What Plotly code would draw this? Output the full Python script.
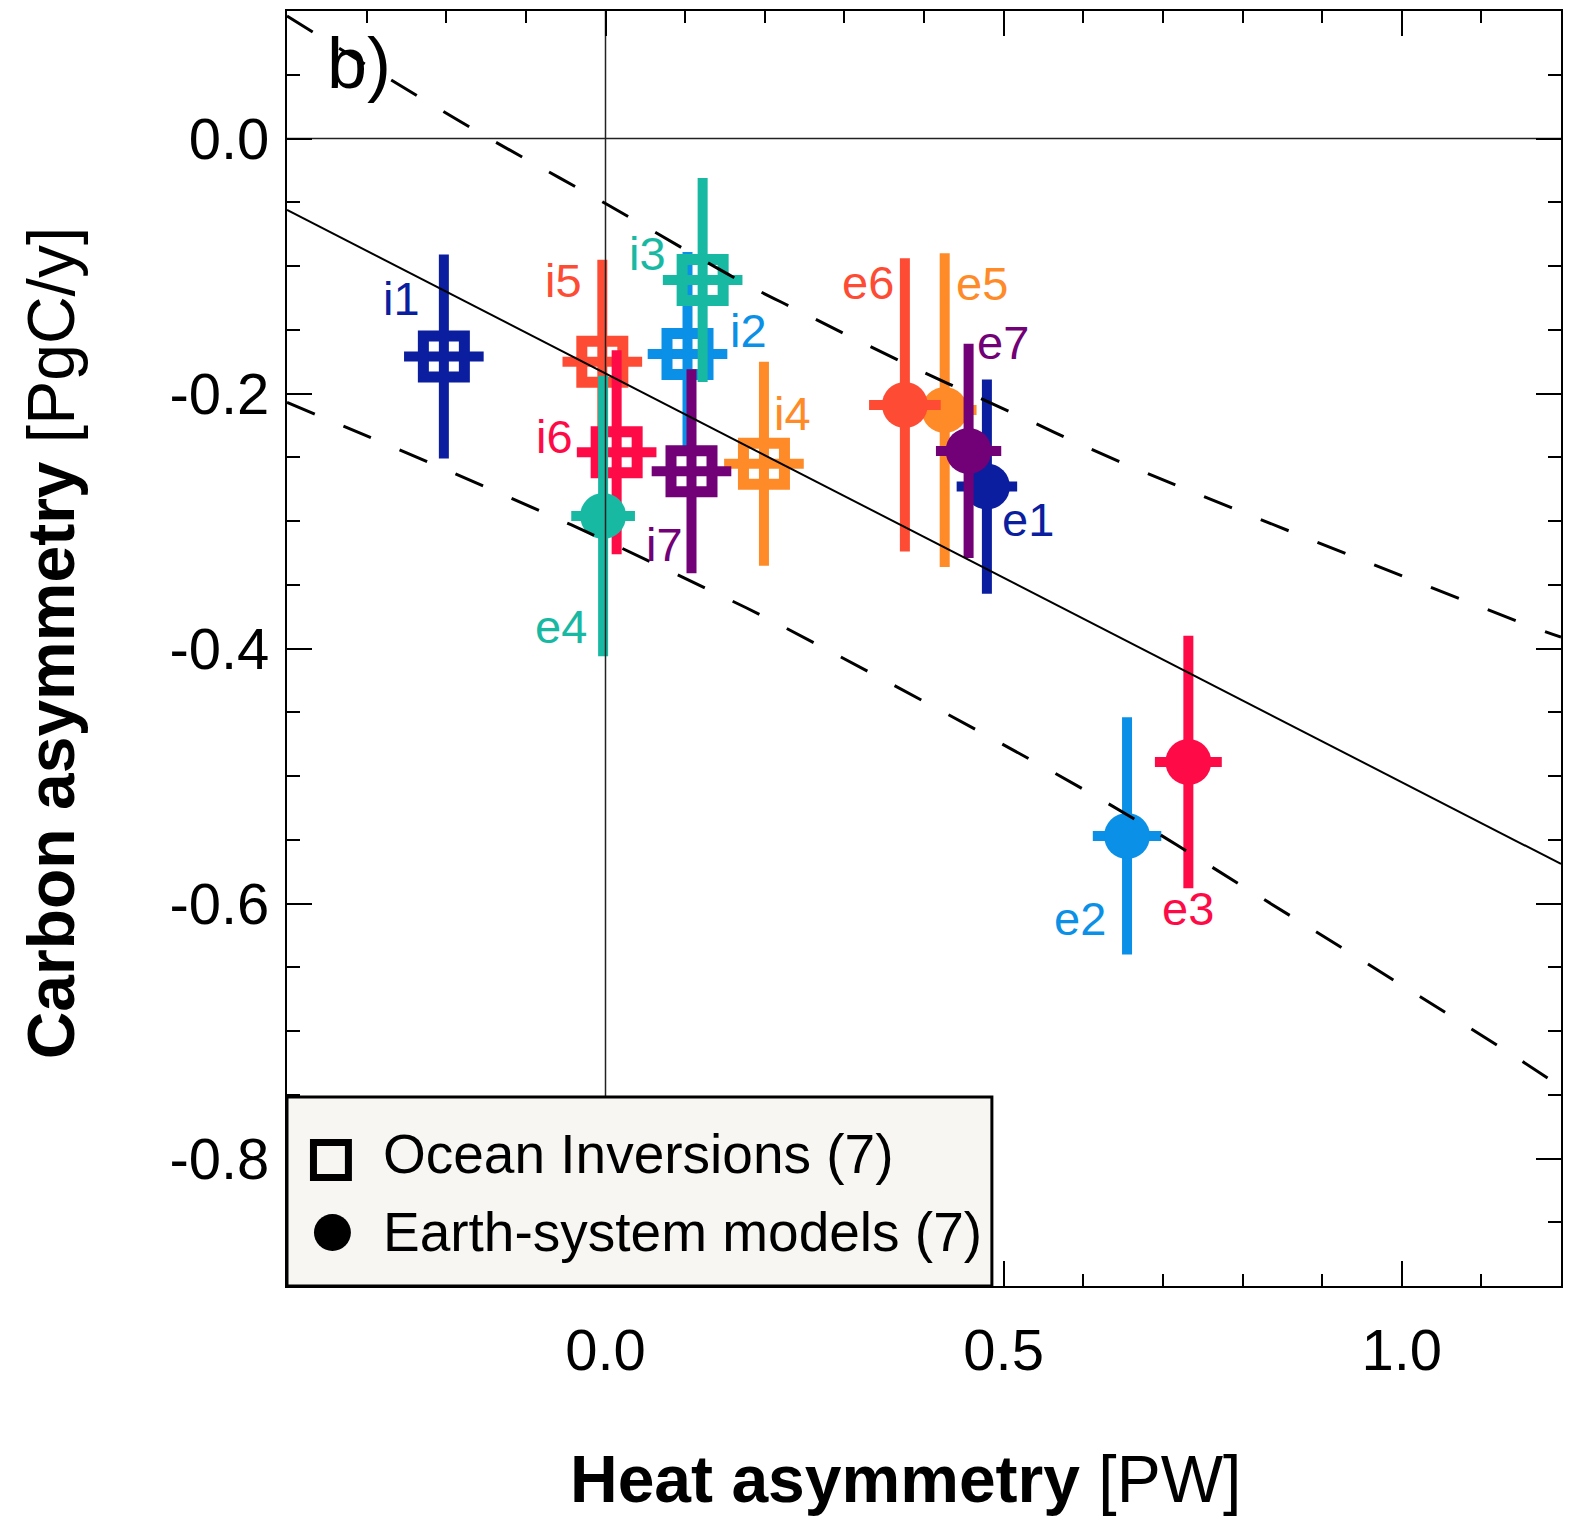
import plotly.graph_objects as go

# ---------------- data ----------------
inv_labels = ["i1", "i2", "i3", "i4", "i5", "i6", "i7"]
inv_x = [-0.203, 0.103, 0.122, 0.199, -0.004, 0.014, 0.108]
inv_y = [-0.171, -0.169, -0.111, -0.255, -0.175, -0.246, -0.261]
inv_yerr = [0.080, 0.080, 0.080, 0.080, 0.080, 0.080, 0.080]
inv_xerr = [0.050, 0.050, 0.050, 0.050, 0.050, 0.050, 0.050]

esm_labels = ["e1", "e2", "e3", "e4", "e5", "e6", "e7"]
esm_x = [0.479, 0.655, 0.732, -0.003, 0.426, 0.376, 0.456]
esm_y = [-0.273, -0.547, -0.489, -0.296, -0.213, -0.209, -0.245]
esm_yerr = [0.084, 0.093, 0.099, 0.110, 0.123, 0.115, 0.084]
esm_xerr = [0.038, 0.043, 0.042, 0.040, 0.040, 0.045, 0.041]

fit_x = [-0.4, 1.2]
fit_y = [-0.056, -0.569]
upper_x = [-0.400, -0.168, 0.0, 0.170, 0.239, 0.378, 0.521, 0.644, 1.168, 1.200]
upper_y = [0.096, 0.008, -0.051, -0.112, -0.134, -0.177, -0.218, -0.253, -0.384, -0.391]
lower_x = [-0.400, -0.222, -0.079, -0.008, 0.133, 0.202, 0.613, 0.812, 1.142, 1.200]
lower_y = [-0.207, -0.254, -0.293, -0.313, -0.355, -0.376, -0.515, -0.591, -0.720, -0.744]

x_range = [-0.4, 1.2]
y_range = [-0.9, 0.1]
x_tickvals = [0.0, 0.5, 1.0]
x_ticktext = ["0.0", "0.5", "1.0"]
y_tickvals = [0.0, -0.2, -0.4, -0.6, -0.8]
y_ticktext = ["0.0", "-0.2", "-0.4", "-0.6", "-0.8"]

legend_labels = ["Ocean Inversions (7)", "Earth-system models (7)"]

# ---------------- styles ----------------
DBLUE = "#0a1e9f"
LBLUE = "#0a90e6"
TEAL = "#18b9a3"
ORANGE = "#fe8a28"
REDOR = "#fe4c34"
CRIMSON = "#fe0b47"
PURPLE = "#720076"

inv_colors = [DBLUE, LBLUE, TEAL, ORANGE, REDOR, CRIMSON, PURPLE]
esm_colors = [DBLUE, LBLUE, CRIMSON, TEAL, ORANGE, REDOR, PURPLE]

# label offsets in pixels (dx right, dy up)
inv_off = [(-42, 58), (61, 23), (-55, 27), (29, 50), (-39, 81), (-62, 16), (-27, -73)]
esm_off = [(41, -33), (-47, -83), (0, -147), (-42, -111), (37, 127), (-37, 122), (34, 108)]

W, H = 1572, 1527
ML, MR, MT, MB = 287, 9, 11, 241
PW = W - ML - MR
PH = H - MT - MB


def px2paper(px, py):
    return (px - ML) / PW, (H - MB - py) / PH


FONT = "Liberation Sans, Arial, Helvetica, sans-serif"

fig = go.Figure()

for i in range(len(inv_x)):
    c = inv_colors[i]
    fig.add_trace(go.Scatter(
        x=[inv_x[i]], y=[inv_y[i]], mode="markers",
        marker=dict(symbol="square-open", size=41, color=c, line=dict(width=11, color=c)),
        error_y=dict(type="data", array=[inv_yerr[i]], color=c, thickness=10, width=0),
        error_x=dict(type="data", array=[inv_xerr[i]], color=c, thickness=10, width=0),
        showlegend=False, hoverinfo="skip"))

for i in range(len(esm_x)):
    c = esm_colors[i]
    fig.add_trace(go.Scatter(
        x=[esm_x[i]], y=[esm_y[i]], mode="markers",
        marker=dict(symbol="circle", size=46, color=c, line=dict(width=0)),
        error_y=dict(type="data", array=[esm_yerr[i]], color=c, thickness=10, width=0),
        error_x=dict(type="data", array=[esm_xerr[i]], color=c, thickness=10, width=0),
        showlegend=False, hoverinfo="skip"))

# zero reference lines
fig.add_trace(go.Scatter(x=[0, 0], y=y_range, mode="lines",
                         line=dict(color="#222222", width=1.5), showlegend=False, hoverinfo="skip"))
fig.add_trace(go.Scatter(x=x_range, y=[0, 0], mode="lines",
                         line=dict(color="#222222", width=1.5), showlegend=False, hoverinfo="skip"))
# regression + bounds
fig.add_trace(go.Scatter(x=fit_x, y=fit_y, mode="lines",
                         line=dict(color="black", width=2), showlegend=False, hoverinfo="skip"))
for bx, by in [(upper_x, upper_y), (lower_x, lower_y)]:
    fig.add_trace(go.Scatter(x=bx, y=by, mode="lines",
                             line=dict(color="black", width=3, dash="30px,31px", shape="spline", smoothing=1.0),
                             showlegend=False, hoverinfo="skip"))

annotations = []
for i in range(len(inv_x)):
    annotations.append(dict(x=inv_x[i], y=inv_y[i], xref="x", yref="y", text=inv_labels[i],
                            showarrow=False, xshift=inv_off[i][0], yshift=inv_off[i][1],
                            font=dict(size=47, color=inv_colors[i], family=FONT)))
for i in range(len(esm_x)):
    annotations.append(dict(x=esm_x[i], y=esm_y[i], xref="x", yref="y", text=esm_labels[i],
                            showarrow=False, xshift=esm_off[i][0], yshift=esm_off[i][1],
                            font=dict(size=47, color=esm_colors[i], family=FONT)))

# panel label
bx_, by_ = px2paper(359, 63)
annotations.append(dict(x=bx_, y=by_, xref="paper", yref="paper", text="b)", showarrow=False,
                        xanchor="center", yanchor="middle", font=dict(size=72, color="black", family=FONT)))

# axis titles
tx, ty = px2paper(906, 1479)
annotations.append(dict(x=tx, y=ty, xref="paper", yref="paper",
                        text="<b>Heat asymmetry</b> [PW]", showarrow=False,
                        xanchor="center", yanchor="middle", font=dict(size=66, color="black", family=FONT)))
tx, ty = px2paper(51, 643)
annotations.append(dict(x=tx, y=ty, xref="paper", yref="paper",
                        text="<b>Carbon asymmetry</b> [PgC/y]", showarrow=False, textangle=-90,
                        xanchor="center", yanchor="middle", font=dict(size=66, color="black", family=FONT)))

# legend box (drawn manually)
shapes = []
lx0, ly0 = px2paper(287, 1286)
lx1, ly1 = px2paper(993, 1097)
shapes.append(dict(type="rect", xref="paper", yref="paper", x0=lx0, y0=ly0, x1=lx1, y1=ly1,
                   fillcolor="#f7f6f3", line=dict(color="black", width=3), layer="above"))
sx0, sy0 = px2paper(313.5, 1177.5)
sx1, sy1 = px2paper(348.5, 1142.5)
shapes.append(dict(type="rect", xref="paper", yref="paper", x0=sx0, y0=sy0, x1=sx1, y1=sy1,
                   fillcolor="rgba(0,0,0,0)", line=dict(color="black", width=7), layer="above"))
cx0, cy0 = px2paper(314, 1251)
cx1, cy1 = px2paper(351, 1214)
shapes.append(dict(type="circle", xref="paper", yref="paper", x0=cx0, y0=cy0, x1=cx1, y1=cy1,
                   fillcolor="black", line=dict(color="black", width=0), layer="above"))
for lab, pyc in zip(legend_labels, [1154, 1232]):
    ax_, ay_ = px2paper(381, pyc)
    annotations.append(dict(x=ax_, y=ay_, xref="paper", yref="paper", text=lab, showarrow=False,
                            xanchor="left", yanchor="middle", font=dict(size=55, color="black", family=FONT)))

axis_common = dict(showline=True, linewidth=2, linecolor="black", mirror="ticks",
                   ticks="inside", ticklen=25, tickwidth=2, tickcolor="black",
                   showgrid=False, zeroline=False,
                   tickfont=dict(size=58, color="black", family=FONT))

fig.update_xaxes(range=x_range, tickmode="array", tickvals=x_tickvals, ticktext=x_ticktext,
                 minor=dict(dtick=0.1, tick0=0, ticks="inside", ticklen=12, tickwidth=2, tickcolor="black"),
                 ticklabelstandoff=12, **axis_common)
fig.update_yaxes(range=y_range, tickmode="array", tickvals=y_tickvals, ticktext=y_ticktext,
                 minor=dict(dtick=0.05, tick0=0, ticks="inside", ticklen=13, tickwidth=2, tickcolor="black"),
                 ticklabelstandoff=4, **axis_common)

fig.update_layout(width=W, height=H, margin=dict(l=ML, r=MR, t=MT, b=MB, pad=0),
                  plot_bgcolor="white", paper_bgcolor="white", showlegend=False,
                  font=dict(family=FONT, color="black"),
                  annotations=annotations, shapes=shapes)

fig.write_html("out.html")
